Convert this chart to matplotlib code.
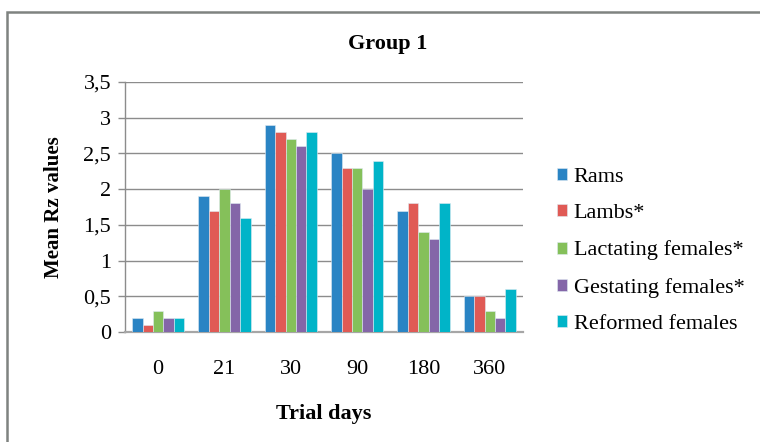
import matplotlib
matplotlib.use("Agg")
import matplotlib.pyplot as plt
from matplotlib.patches import Rectangle
import numpy as np

days = ["0", "21", "30", "90", "180", "360"]
rams = [0.2, 1.9, 2.9, 2.5, 1.7, 0.5]
lambs = [0.1, 1.7, 2.8, 2.3, 1.8, 0.5]
lactating = [0.3, 2.0, 2.7, 2.3, 1.4, 0.3]
gestating = [0.2, 1.8, 2.6, 2.0, 1.3, 0.2]
reformed = [0.2, 1.6, 2.8, 2.4, 1.8, 0.6]

series_names = ["Rams", "Lambs*", "Lactating females*", "Gestating females*", "Reformed females"]
series_vals = [rams, lambs, lactating, gestating, reformed]
colors = ["#2A84C4", "#E05A55", "#85C05A", "#8466A8", "#00B4C8"]
y_ticks = [0, 0.5, 1, 1.5, 2, 2.5, 3, 3.5]
y_tick_labels = ["0", "0,5", "1", "1,5", "2", "2,5", "3", "3,5"]

plt.rcParams["font.family"] = ["Liberation Serif", "DejaVu Serif"]

W, H = 760, 442
fig = plt.figure(figsize=(W / 100, H / 100), dpi=100)

# outer chart frame
fig.patches.append(Rectangle((6.5 / W, -0.05), 1.2, (H - 12) / H + 0.05,
                             transform=fig.transFigure, fill=False,
                             edgecolor="#7f8380", linewidth=1.8, zorder=0))

ax = fig.add_axes([125 / W, (H - 332) / H, 398 / W, 250 / H])

x = np.arange(len(days))
bw = 0.157
for i, (name, vals, c) in enumerate(zip(series_names, series_vals, colors)):
    ax.bar(x + (i - 2) * bw, vals, width=bw, color=c, label=name,
           edgecolor="#dfeaf2", linewidth=0.4, zorder=3)

ax.set_xlim(-0.5, len(days) - 0.5)
ax.set_ylim(0, 3.5)
ax.set_yticks(y_ticks)
ax.set_yticklabels(y_tick_labels)
ax.set_xticks(x)
ax.set_xticklabels(days)

ax.yaxis.grid(True, color="#8c8c8c", linewidth=1.0, zorder=0)
ax.set_axisbelow(True)
for s in ["top", "right"]:
    ax.spines[s].set_visible(False)
ax.spines["left"].set_color("#8c8c8c")
ax.spines["left"].set_linewidth(1.0)
ax.spines["bottom"].set_color("#a6a6a6")
ax.spines["bottom"].set_linewidth(1.6)

ax.tick_params(axis="y", length=5, width=1.0, color="#8c8c8c", pad=5, labelsize=16)
ax.tick_params(axis="x", length=0, pad=20, labelsize=16)

ax.set_ylabel("Mean Rz values", fontsize=15, fontweight="bold", labelpad=14)
ax.set_xlabel("Trial days", fontsize=16, fontweight="bold", labelpad=18)

fig.text(388 / W, 1 - 44 / H, "Group 1", ha="center", va="center",
         fontsize=16, fontweight="bold")

ax.legend(loc="center left", bbox_to_anchor=(548 / W, 1 - 251 / H),
          bbox_transform=fig.transFigure, frameon=False, fontsize=16,
          handlelength=0.45, handleheight=0.45, handletextpad=0.3,
          labelspacing=0.78, borderaxespad=0)

fig.savefig("out.png", dpi=100)
